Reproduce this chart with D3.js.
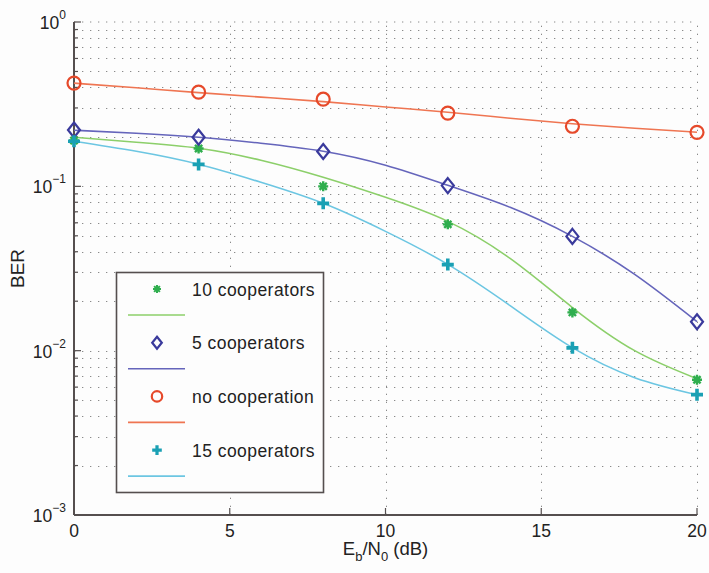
<!DOCTYPE html>
<html>
<head>
<meta charset="utf-8">
<script src="https://cdn.jsdelivr.net/npm/d3@7"></script>
<style>
  body { margin: 0; background: #fdfdfd; }
  svg { display: block; font-family: "Liberation Sans", Arial, Helvetica, sans-serif; }
</style>
</head>
<body>
<div id="chart"></div>
<script>
// Eb/N0 of the simulated points (markers) and of the analytic curves (dB)
const snr = [0, 4, 8, 12, 16, 20];
const snrCurve = [0, 2, 4, 6, 8, 10, 12, 14, 16, 18, 20];

// simulated BER (markers)
const simNoCoop = [0.425, 0.374, 0.339, 0.279, 0.232, 0.213];
const sim5 = [0.220, 0.199, 0.163, 0.101, 0.0496, 0.0150];
const sim10 = [0.190, 0.170, 0.100, 0.0587, 0.0171, 0.00665];
const sim15 = [0.188, 0.136, 0.0788, 0.0334, 0.0104, 0.0054];

// analytic BER (solid curves)
const curveNoCoop = [0.4246, 0.3977, 0.3716, 0.3489, 0.3275, 0.3041, 0.2826, 0.2598, 0.2404, 0.2258, 0.2135];
const curve5 = [0.2195, 0.2104, 0.1990, 0.1829, 0.1634, 0.1343, 0.1014, 0.0745, 0.0496, 0.0291, 0.01502];
const curve10 = [0.1990, 0.1855, 0.1705, 0.1441, 0.1135, 0.0857, 0.0612, 0.0364, 0.0183, 0.0100, 0.00675];
const curve15 = [0.1880, 0.1634, 0.1362, 0.1058, 0.0788, 0.0532, 0.0335, 0.0188, 0.01043, 0.00685, 0.00539];

const xTicks = [0, 5, 10, 15, 20];
const yDecades = [1, 0.1, 0.01, 0.001];

const series = [
  { name: '10 cooperators', sim: sim10, curve: curve10, marker: 'asterisk', mColor: '#2fae4e', lColor: '#8ccf6a' },
  { name: '5 cooperators', sim: sim5, curve: curve5, marker: 'diamond', mColor: '#3a3a9c', lColor: '#6565bb' },
  { name: 'no cooperation', sim: simNoCoop, curve: curveNoCoop, marker: 'circle', mColor: '#e6492a', lColor: '#ef7552' },
  { name: '15 cooperators', sim: sim15, curve: curve15, marker: 'plus', mColor: '#1aa0b4', lColor: '#6cc6e2' },
];

const W = 709, H = 573;
const M = { left: 74, right: 12, top: 22, bottom: 58 };

const svg = d3.select('#chart').append('svg')
  .attr('width', W).attr('height', H);

const x = d3.scaleLinear().domain([0, 20]).range([M.left, W - M.right]);
const y = d3.scaleLog().domain([1e-3, 1]).range([H - M.bottom, M.top]);

// minor log ticks
const minor = [];
for (let e = -3; e < 0; e++) {
  for (let k = 1; k <= 9; k++) minor.push(k * Math.pow(10, e));
}
minor.push(1);

// grid
const grid = svg.append('g').attr('stroke', '#8a8a8a').attr('stroke-width', 1)
  .attr('stroke-dasharray', '1.3,6.7');
minor.filter(v => v > 1e-3 && v < 1).forEach(v => {
  grid.append('line').attr('x1', x(0)).attr('x2', x(20))
    .attr('y1', Math.round(y(v)) + 0.5).attr('y2', Math.round(y(v)) + 0.5);
});
grid.append('line').attr('x1', x(0)).attr('x2', x(20))
  .attr('y1', y(1)).attr('y2', y(1));
xTicks.filter(v => v > 0).forEach(v => {
  grid.append('line').attr('y1', y(1e-3)).attr('y2', y(1))
    .attr('x1', Math.round(x(v)) + 0.5).attr('x2', Math.round(x(v)) + 0.5);
});

// axes lines
const axisColor = '#554f4f';
svg.append('line').attr('x1', x(0)).attr('x2', x(0)).attr('y1', y(1)).attr('y2', y(1e-3))
  .attr('stroke', axisColor).attr('stroke-width', 2);
svg.append('line').attr('x1', x(0)).attr('x2', x(20)).attr('y1', y(1e-3)).attr('y2', y(1e-3))
  .attr('stroke', axisColor).attr('stroke-width', 2);

// inward ticks
minor.forEach(v => {
  const major = yDecades.includes(v);
  svg.append('line').attr('x1', x(0)).attr('x2', x(0) + (major ? 7 : 4))
    .attr('y1', y(v)).attr('y2', y(v)).attr('stroke', axisColor).attr('stroke-width', 1.2);
});
xTicks.forEach(v => {
  svg.append('line').attr('x1', x(v)).attr('x2', x(v))
    .attr('y1', y(1e-3)).attr('y2', y(1e-3) - 7).attr('stroke', axisColor).attr('stroke-width', 1.2);
});

// tick labels
xTicks.forEach(v => {
  svg.append('text').attr('x', x(v)).attr('y', y(1e-3) + 22)
    .attr('text-anchor', 'middle').attr('font-size', 17.5).attr('fill', '#222').text(v);
});
yDecades.forEach(v => {
  const e = Math.round(Math.log10(v));
  const t = svg.append('text').attr('x', x(0) - 8).attr('y', y(v) + 7)
    .attr('text-anchor', 'end').attr('font-size', 17.5).attr('fill', '#222');
  t.append('tspan').text('10');
  t.append('tspan').attr('dy', -10).attr('font-size', 12).text(e === 0 ? '0' : '\u2212' + (-e));
});

// axis titles
svg.append('text').attr('transform', `translate(24,${(y(1) + y(1e-3)) / 2}) rotate(-90)`)
  .attr('text-anchor', 'middle').attr('font-size', 19).attr('fill', '#222').text('BER');
const xl = svg.append('text').attr('x', (x(0) + x(20)) / 2).attr('y', H - 18)
  .attr('text-anchor', 'middle').attr('font-size', 18.5).attr('fill', '#222');
xl.append('tspan').text('E');
xl.append('tspan').attr('dy', 6).attr('font-size', 13).text('b');
xl.append('tspan').attr('dy', -6).text('/N');
xl.append('tspan').attr('dy', 6).attr('font-size', 13).text('0');
xl.append('tspan').attr('dy', -6).text(' (dB)');

// markers
function drawMarker(g, type, cx, cy, color, k = 1) {
  if (type === 'circle') {
    g.append('circle').attr('cx', cx).attr('cy', cy).attr('r', 6.5 * k)
      .attr('fill', 'none').attr('stroke', color).attr('stroke-width', 2.2);
  } else if (type === 'diamond') {
    const s = 7.5 * k;
    g.append('path').attr('d', `M${cx},${cy - s}L${cx + s * 0.8},${cy}L${cx},${cy + s}L${cx - s * 0.8},${cy}Z`)
      .attr('fill', 'none').attr('stroke', color).attr('stroke-width', 2.2);
  } else if (type === 'asterisk') {
    const s = 5 * k;
    const a = s * 0.72;
    g.append('path')
      .attr('d', `M${cx - s},${cy}L${cx + s},${cy}M${cx},${cy - s}L${cx},${cy + s}` +
        `M${cx - a},${cy - a}L${cx + a},${cy + a}M${cx - a},${cy + a}L${cx + a},${cy - a}`)
      .attr('stroke', color).attr('stroke-width', 2.4 * Math.min(1, k + 0.05));
  } else if (type === 'plus') {
    const s = 6 * k;
    g.append('path').attr('d', `M${cx - s},${cy}L${cx + s},${cy}M${cx},${cy - s}L${cx},${cy + s}`)
      .attr('stroke', color).attr('stroke-width', 3.6 * Math.min(1, k + 0.1));
  }
}

const line = d3.line()
  .x((d, i) => x(snrCurve[i]))
  .y(d => y(d))
  .curve(d3.curveNatural);

series.forEach(s => {
  svg.append('path').datum(s.curve).attr('d', line)
    .attr('fill', 'none').attr('stroke', s.lColor).attr('stroke-width', 1.6);
});
series.forEach(s => {
  const g = svg.append('g');
  s.sim.forEach((v, i) => drawMarker(g, s.marker, x(snr[i]), y(v), s.mColor));
});

// legend
const lg = svg.append('g');
const lx = 116, ly = 272, lw = 207, lh = 220;
lg.append('rect').attr('x', lx + 0.5).attr('y', ly + 0.5).attr('width', lw).attr('height', lh)
  .attr('fill', '#fdfdfd').attr('stroke', '#554f4f').attr('stroke-width', 1.6);
series.forEach((s, i) => {
  const rowY = ly + 17 + i * 53.7;
  drawMarker(lg, s.marker, lx + 41, rowY, s.mColor, 0.8);
  lg.append('text').attr('x', lx + 76).attr('y', rowY + 6.5)
    .attr('font-size', 17.5).attr('letter-spacing', 0.45).attr('fill', '#222').text(s.name);
  lg.append('line').attr('x1', lx + 12).attr('x2', lx + 69)
    .attr('y1', rowY + 26).attr('y2', rowY + 26)
    .attr('stroke', s.lColor).attr('stroke-width', 1.6);
});
</script>
</body>
</html>
